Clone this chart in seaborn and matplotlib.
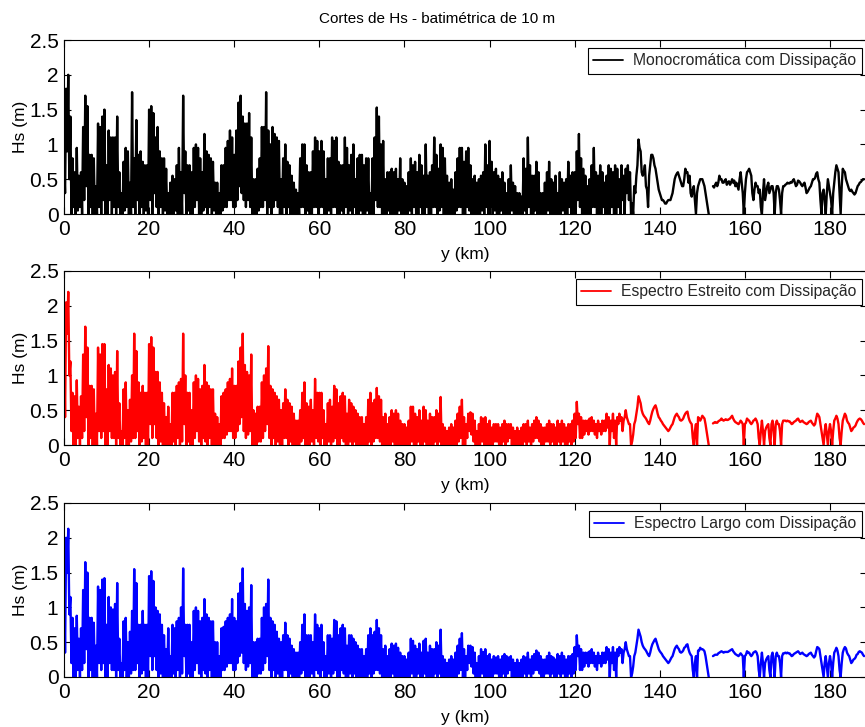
import numpy as np
import pandas as pd
import matplotlib
matplotlib.use("Agg")
import matplotlib.pyplot as plt
from matplotlib.lines import Line2D
import seaborn as sns

nan = np.nan

# Hs cuts along the 10 m isobath, sampled every 0.25 km:
# crests at 0, 0.5, 1.0 ... km and troughs half-way between them.
km_step = 0.25

black_crest = [
    0.8, 1.8, 2.0, 1.4, 0.8, 0.6, 0.95, 0.55, 0.6, 1.25, 1.7, 1.55, 0.85, 0.85, 0.8, 0.4, 1.3, 1.25, 1.4, 1.5,
    0.7, 1.2, 1.1, 1.1, 1.1, 1.4, 0.6, 0.3, 0.75, 0.95, 0.9, 0.45, 1.75, 0.8, 1.35, 0.85, 0.9, 0.75, 0.7, 0.7,
    1.5, 1.55, 1.45, 1.1, 1.25, 0.9, 0.8, 0.8, 0.65, 0.3, 0.45, 0.55, 0.5, 0.7, 0.95, 0.6, 1.7, 0.9, 0.7, 0.7,
    0.6, 0.95, 1.0, 0.95, 0.8, 0.6, 1.15, 0.9, 0.85, 0.8, 0.75, 0.45, 0.45, 0.3, 0.7, 0.7, 0.95, 1.05, 1.2, 1.1,
    0.85, 1.2, 1.6, 1.7, 1.4, 1.3, 1.3, 1.45, 1.1, 0.5, 0.5, 0.65, 0.8, 1.25, 1.25, 1.75, 1.2, 1.0, 1.25, 1.15,
    1.1, 1.05, 0.5, 0.8, 1.0, 0.75, 0.7, 0.55, 0.45, 0.35, 0.3, 0.8, 1.0, 1.0, 0.7, 0.6, 0.6, 0.9, 1.1, 1.05,
    0.9, 1.05, 0.9, 0.5, 0.8, 0.8, 1.1, 1.05, 1.1, 0.75, 0.7, 0.7, 1.1, 0.95, 0.7, 0.85, 1.0, 0.5, 0.8, 0.85,
    0.85, 0.7, 0.8, 0.8, 0.3, 0.8, 1.1, 1.53, 1.4, 1.0, 1.05, 0.5, 0.6, 0.6, 0.65, 0.6, 0.65, 0.5, 0.8, 0.5,
    0.45, 0.4, 0.6, 0.8, 0.7, 0.75, 0.6, 0.85, 0.7, 0.55, 1.0, 0.55, 0.6, 0.7, 1.1, 0.85, 0.65, 1.0, 0.95, 0.8,
    0.55, 0.45, 0.5, 0.35, 0.6, 0.8, 0.95, 0.95, 0.75, 0.9, 0.95, 0.7, 0.5, 0.55, 0.45, 0.5, 0.55, 0.6, 1.0, 0.7,
    1.05, 0.75, 0.6, 0.65, 0.55, 0.5, 0.6, 0.45, 0.3, 0.5, 0.7, 0.45, 0.4, 0.3, 0.3, 0.25, 0.8, 0.65, 1.1, 0.7,
    0.55, 0.55, 0.75, 0.6, 0.3, 0.3, 0.45, 0.6, 0.75, 0.5, 0.45, 0.55, 0.3, 0.6, 0.5, 0.45, 0.5, 0.75, 0.55, 0.6,
    0.6, 0.9, 1.15, 0.8, 0.65, 0.55, 0.4, 0.5, 0.7, 0.95, 0.6, 0.55, 0.7, 0.6, 0.45, 0.55, 0.7, 0.65, 0.6, 0.7,
    0.65, 0.5, 0.7, 0.55, 0.65, 0.7, 0.6, 0.15, 0.4, 0.55, 1.07, 0.9, 0.55, 0.7, 0.35, 0.55, 0.85, 0.8, 0.65, 0.45,
    0.3, 0.2, 0.18, 0.15, 0.2, 0.2, 0.3, 0.5, 0.58, 0.55, 0.45, 0.4, 0.65, 0.6, 0.55, 0.25, 0.4, 0.0, 0.4, 0.5,
    0.5, 0.4, 0.2, 0.0, nan, 0.4, 0.42, 0.4, 0.55, 0.5, 0.45, 0.5, 0.45, 0.42, 0.5, 0.48, 0.45, 0.35, 0.6, 0.3,
    0.3, 0.6, 0.65, 0.55, 0.2, 0.45, 0.4, 0.35, 0.0, 0.5, 0.3, 0.45, 0.35, 0.4, 0.0, 0.4, 0.35, 0.0, 0.4, 0.42,
    0.45, 0.44, 0.45, 0.5, 0.4, 0.48, 0.45, 0.4, 0.45, 0.3, 0.35, 0.4, 0.5, 0.52, 0.6, 0.45, 0.0, 0.35, 0.0, 0.5,
    0.3, 0.0, 0.45, 0.7, 0.6, 0.0, 0.65, 0.6, 0.45, 0.35, 0.35, 0.3, 0.3, 0.4, 0.45, 0.48, 0.5,
]
black_trough = [
    0.3, 0.9, 0.5, 0.0, 0.1, 0.0, 0.05, 0.1, 0.0, 0.2, 0.4, 0.0, 0.1, 0.0, 0.0, 0.0, 0.1, 0.0, 0.2, 0.0,
    0.0, 0.2, 0.0, 0.1, 0.0, 0.1, 0.0, 0.0, 0.05, 0.1, 0.0, 0.0, 0.1, 0.0, 0.2, 0.0, 0.1, 0.0, 0.05, 0.0,
    0.2, 0.0, 0.3, 0.1, 0.0, 0.1, 0.0, 0.05, 0.0, 0.0, 0.0, 0.0, 0.05, 0.0, 0.0, 0.0, 0.3, 0.0, 0.05, 0.0,
    0.0, 0.1, 0.2, 0.0, 0.0, 0.05, 0.1, 0.0, 0.1, 0.0, 0.05, 0.0, 0.0, 0.0, 0.05, 0.1, 0.1, 0.2, 0.2, 0.1,
    0.1, 0.2, 0.4, 0.3, 0.2, 0.1, 0.2, 0.1, 0.0, 0.0, 0.0, 0.05, 0.1, 0.1, 0.2, 0.0, 0.1, 0.0, 0.1, 0.2,
    0.1, 0.0, 0.0, 0.1, 0.0, 0.1, 0.0, 0.0, 0.0, 0.0, 0.0, 0.1, 0.1, 0.0, 0.05, 0.0, 0.0, 0.1, 0.1, 0.0,
    0.1, 0.1, 0.0, 0.0, 0.05, 0.0, 0.1, 0.1, 0.0, 0.0, 0.05, 0.0, 0.1, 0.0, 0.05, 0.0, 0.1, 0.0, 0.0, 0.05,
    0.0, 0.0, 0.05, 0.0, 0.0, 0.0, 0.2, 0.1, 0.1, 0.0, 0.0, 0.0, 0.05, 0.0, 0.0, 0.0, 0.0, 0.05, 0.0, 0.0,
    0.0, 0.0, 0.05, 0.0, 0.1, 0.0, 0.0, 0.1, 0.0, 0.0, 0.1, 0.0, 0.0, 0.1, 0.1, 0.0, 0.05, 0.1, 0.0, 0.0,
    0.0, 0.0, 0.0, 0.0, 0.05, 0.1, 0.1, 0.0, 0.0, 0.1, 0.05, 0.0, 0.0, 0.0, 0.0, 0.0, 0.05, 0.0, 0.1, 0.0,
    0.1, 0.0, 0.05, 0.0, 0.0, 0.05, 0.0, 0.0, 0.0, 0.0, 0.05, 0.0, 0.0, 0.0, 0.0, 0.0, 0.05, 0.0, 0.1, 0.0,
    0.0, 0.05, 0.0, 0.0, 0.0, 0.0, 0.0, 0.05, 0.0, 0.0, 0.0, 0.0, 0.0, 0.0, 0.05, 0.0, 0.0, 0.1, 0.0, 0.0,
    0.0, 0.2, 0.1, 0.0, 0.0, 0.0, 0.0, 0.0, 0.1, 0.1, 0.0, 0.0, 0.0, 0.1, 0.0, 0.0, 0.0, 0.1, 0.0, 0.0,
    0.1, 0.0, 0.2, 0.0, 0.3, 0.2, 0.0, 0.0, 0.3, 0.7, 0.95, 0.6, 0.6, 0.4, 0.1, 0.7, 0.85, 0.7, 0.55, 0.35,
    0.25, 0.2, 0.15, 0.18, 0.2, 0.25, 0.4, 0.55, 0.6, 0.5, 0.4, 0.5, 0.6, 0.45, 0.3, 0.35, 0.2, 0.3, 0.45, 0.5,
    0.45, 0.3, 0.1, nan, nan, 0.38, 0.45, 0.45, 0.5, 0.45, 0.48, 0.42, 0.47, 0.45, 0.45, 0.4, 0.4, 0.5, 0.45, 0.0,
    0.5, 0.62, 0.6, 0.3, 0.35, 0.4, 0.3, 0.1, 0.3, 0.2, 0.4, 0.3, 0.4, 0.3, 0.3, 0.4, 0.2, 0.3, 0.4, 0.43,
    0.44, 0.46, 0.48, 0.45, 0.42, 0.47, 0.42, 0.43, 0.38, 0.32, 0.38, 0.45, 0.5, 0.58, 0.5, 0.2, 0.3, 0.2, 0.3, 0.4,
    0.2, 0.3, 0.6, 0.65, 0.3, 0.4, 0.62, 0.5, 0.4, 0.33, 0.32, 0.28, 0.35, 0.42, 0.46, 0.5,
]

red_crest = [
    1.6, 2.05, 2.2, 1.2, 0.75, 0.7, 0.93, 0.55, 0.7, 1.3, 1.7, 1.4, 0.85, 0.85, 0.8, 0.45, 1.4, 1.3, 1.45, 1.45,
    0.8, 1.15, 1.1, 1.0, 1.05, 1.35, 0.6, 0.2, 0.8, 0.9, 0.5, 0.65, 1.0, 1.6, 1.35, 0.9, 0.75, 0.85, 0.75, 0.75,
    1.45, 1.55, 1.4, 1.05, 1.05, 0.9, 0.75, 0.6, 0.4, 0.55, 0.3, 0.75, 0.75, 0.85, 0.9, 0.95, 1.6, 1.0, 0.75, 0.75,
    0.5, 0.9, 1.0, 0.95, 0.8, 0.85, 1.15, 0.9, 0.85, 0.8, 0.8, 0.45, 0.4, 0.3, 0.7, 0.75, 0.8, 0.9, 0.95, 1.1,
    0.85, 0.85, 1.2, 1.4, 1.6, 1.15, 1.05, 1.0, 1.3, 0.5, 0.45, 0.55, 0.55, 0.9, 1.0, 1.1, 1.42, 0.85, 0.8, 0.75,
    0.7, 0.65, 0.5, 0.6, 0.8, 0.65, 0.6, 0.55, 0.45, 0.35, 0.35, 0.5, 0.75, 0.9, 0.6, 0.55, 0.65, 0.5, 0.95, 0.75,
    0.75, 0.75, 0.5, 0.3, 0.6, 0.65, 0.55, 0.85, 0.8, 0.6, 0.7, 0.75, 0.7, 0.45, 0.65, 0.6, 0.55, 0.5, 0.45, 0.4,
    0.4, 0.3, 0.4, 0.65, 0.75, 0.6, 0.65, 0.82, 0.7, 0.65, 0.4, 0.45, 0.3, 0.4, 0.5, 0.45, 0.5, 0.45, 0.35, 0.3,
    0.3, 0.25, 0.35, 0.55, 0.55, 0.45, 0.4, 0.5, 0.35, 0.55, 0.5, 0.35, 0.45, 0.4, 0.4, 0.5, 0.45, 0.69, 0.3, 0.25,
    0.2, 0.25, 0.3, 0.25, 0.35, 0.45, 0.55, 0.65, 0.4, 0.3, 0.45, 0.47, 0.45, 0.35, 0.2, 0.3, 0.4, 0.38, 0.4, 0.3,
    0.35, 0.25, 0.3, 0.3, 0.3, 0.25, 0.3, 0.35, 0.3, 0.3, 0.3, 0.25, 0.2, 0.25, 0.2, 0.25, 0.3, 0.3, 0.35, 0.25,
    0.3, 0.35, 0.4, 0.35, 0.3, 0.25, 0.25, 0.3, 0.35, 0.3, 0.3, 0.25, 0.35, 0.3, 0.35, 0.3, 0.25, 0.3, 0.3, 0.35,
    0.45, 0.62, 0.45, 0.4, 0.35, 0.35, 0.35, 0.38, 0.4, 0.35, 0.3, 0.35, 0.3, 0.35, 0.35, 0.45, 0.4, 0.35, 0.45, 0.35,
    0.4, 0.45, 0.4, 0.35, 0.5, 0.35, 0.3, 0.05, 0.3, 0.45, 0.7, 0.6, 0.45, 0.4, 0.35, 0.3, 0.42, 0.52, 0.57, 0.45,
    0.38, 0.33, 0.28, 0.24, 0.2, 0.25, 0.3, 0.4, 0.45, 0.4, 0.35, 0.38, 0.45, 0.48, 0.35, 0.3, 0.0, 0.3, 0.4, 0.35,
    0.42, 0.38, 0.2, 0.0, nan, 0.31, 0.33, 0.32, 0.35, 0.38, 0.35, 0.37, 0.36, 0.38, 0.42, 0.35, 0.32, 0.3, 0.35, 0.3,
    0.3, 0.38, 0.35, 0.3, 0.35, 0.38, 0.3, 0.0, 0.35, 0.0, 0.25, 0.3, 0.0, 0.35, 0.0, 0.35, 0.3, 0.0, 0.35, 0.35,
    0.35, 0.34, 0.3, 0.33, 0.35, 0.38, 0.33, 0.35, 0.32, 0.3, 0.33, 0.35, 0.3, 0.3, 0.45, 0.4, 0.2, 0.0, 0.3, 0.0,
    0.3, 0.0, 0.35, 0.42, 0.3, 0.0, 0.35, 0.45, 0.35, 0.3, 0.2, 0.25, 0.28, 0.35, 0.38, 0.35, 0.3,
]
red_trough = [
    0.4, 1.6, 1.0, 0.2, 0.0, 0.0, 0.1, 0.0, 0.1, 0.2, 0.4, 0.0, 0.1, 0.0, 0.0, 0.0, 0.2, 0.1, 0.2, 0.0,
    0.0, 0.2, 0.1, 0.1, 0.0, 0.1, 0.0, 0.0, 0.1, 0.0, 0.0, 0.05, 0.1, 0.1, 0.2, 0.0, 0.05, 0.1, 0.0, 0.0,
    0.3, 0.1, 0.3, 0.1, 0.0, 0.05, 0.0, 0.0, 0.0, 0.0, 0.0, 0.05, 0.0, 0.1, 0.0, 0.05, 0.3, 0.0, 0.05, 0.0,
    0.0, 0.1, 0.2, 0.05, 0.0, 0.1, 0.05, 0.0, 0.1, 0.0, 0.0, 0.0, 0.0, 0.0, 0.1, 0.1, 0.15, 0.2, 0.2, 0.1,
    0.1, 0.2, 0.3, 0.4, 0.2, 0.1, 0.15, 0.2, 0.0, 0.0, 0.0, 0.05, 0.05, 0.1, 0.2, 0.3, 0.1, 0.0, 0.1, 0.0,
    0.05, 0.0, 0.0, 0.1, 0.1, 0.0, 0.05, 0.0, 0.0, 0.0, 0.0, 0.05, 0.1, 0.0, 0.0, 0.0, 0.05, 0.0, 0.1, 0.05,
    0.0, 0.1, 0.0, 0.0, 0.05, 0.0, 0.05, 0.1, 0.0, 0.0, 0.1, 0.05, 0.0, 0.0, 0.05, 0.0, 0.05, 0.0, 0.0, 0.0,
    0.0, 0.0, 0.0, 0.05, 0.0, 0.05, 0.1, 0.1, 0.05, 0.0, 0.0, 0.0, 0.0, 0.0, 0.05, 0.0, 0.0, 0.0, 0.0, 0.0,
    0.0, 0.0, 0.0, 0.05, 0.0, 0.0, 0.05, 0.0, 0.0, 0.05, 0.0, 0.0, 0.0, 0.0, 0.05, 0.0, 0.05, 0.0, 0.0, 0.0,
    0.0, 0.0, 0.0, 0.0, 0.0, 0.05, 0.1, 0.0, 0.0, 0.1, 0.2, 0.15, 0.05, 0.0, 0.0, 0.0, 0.05, 0.0, 0.0, 0.0,
    0.0, 0.0, 0.05, 0.05, 0.0, 0.0, 0.05, 0.0, 0.05, 0.1, 0.0, 0.0, 0.0, 0.0, 0.0, 0.0, 0.05, 0.0, 0.05, 0.0,
    0.05, 0.1, 0.1, 0.05, 0.0, 0.0, 0.05, 0.05, 0.0, 0.05, 0.0, 0.0, 0.05, 0.0, 0.05, 0.0, 0.0, 0.05, 0.0, 0.05,
    0.1, 0.3, 0.1, 0.1, 0.15, 0.2, 0.15, 0.2, 0.2, 0.15, 0.1, 0.2, 0.15, 0.2, 0.2, 0.25, 0.0, 0.2, 0.1, 0.0,
    0.3, 0.35, 0.2, 0.4, 0.4, 0.3, 0.0, 0.15, 0.35, 0.55, 0.65, 0.5, 0.42, 0.38, 0.32, 0.35, 0.48, 0.55, 0.52, 0.4,
    0.35, 0.3, 0.26, 0.22, 0.22, 0.28, 0.35, 0.43, 0.42, 0.36, 0.36, 0.42, 0.47, 0.4, 0.32, 0.1, 0.2, 0.0, 0.38, 0.38,
    0.4, 0.3, 0.1, nan, nan, 0.32, 0.32, 0.34, 0.36, 0.36, 0.36, 0.36, 0.37, 0.4, 0.38, 0.33, 0.31, 0.32, 0.33, 0.0,
    0.32, 0.36, 0.32, 0.32, 0.36, 0.35, 0.1, 0.2, 0.2, 0.2, 0.28, 0.1, 0.3, 0.2, 0.3, 0.3, 0.2, 0.3, 0.35, 0.34,
    0.34, 0.32, 0.31, 0.34, 0.37, 0.35, 0.34, 0.33, 0.31, 0.31, 0.34, 0.32, 0.28, 0.38, 0.43, 0.3, 0.1, 0.2, 0.15, 0.2,
    0.2, 0.2, 0.38, 0.38, 0.1, 0.2, 0.4, 0.42, 0.32, 0.25, 0.22, 0.26, 0.32, 0.37, 0.37, 0.32,
]

blue_crest = [
    1.5, 2.0, 2.13, 1.15, 0.85, 0.7, 0.88, 0.55, 0.7, 1.25, 1.65, 1.5, 0.85, 0.85, 0.78, 0.45, 1.3, 1.25, 1.4, 1.42,
    0.75, 1.15, 1.0, 0.97, 1.05, 1.35, 0.55, 0.2, 0.8, 0.85, 0.5, 0.65, 0.95, 1.55, 1.35, 0.75, 0.75, 0.95, 0.75, 0.75,
    1.45, 1.52, 1.38, 1.0, 0.95, 0.9, 0.75, 0.6, 0.4, 0.7, 0.3, 0.75, 0.7, 0.8, 0.85, 1.0, 1.56, 0.75, 0.75, 0.75,
    0.5, 0.95, 1.0, 0.95, 0.8, 0.85, 1.12, 0.9, 0.85, 0.8, 0.8, 0.5, 0.5, 0.3, 0.7, 0.72, 0.8, 0.85, 0.9, 1.12,
    0.85, 0.8, 1.2, 1.35, 1.56, 1.05, 0.95, 1.0, 1.32, 0.5, 0.5, 0.55, 0.55, 0.85, 1.0, 1.05, 1.4, 0.85, 0.8, 0.75,
    0.65, 0.55, 0.5, 0.6, 0.78, 0.6, 0.55, 0.45, 0.4, 0.35, 0.35, 0.5, 0.75, 0.9, 0.6, 0.6, 0.6, 0.5, 0.9, 0.75,
    0.7, 0.75, 0.5, 0.3, 0.6, 0.6, 0.55, 0.82, 0.8, 0.6, 0.7, 0.75, 0.7, 0.45, 0.6, 0.6, 0.55, 0.5, 0.45, 0.4,
    0.4, 0.3, 0.4, 0.6, 0.7, 0.6, 0.65, 0.82, 0.7, 0.6, 0.4, 0.45, 0.3, 0.4, 0.48, 0.45, 0.48, 0.42, 0.35, 0.3,
    0.3, 0.25, 0.35, 0.55, 0.52, 0.45, 0.4, 0.48, 0.35, 0.52, 0.55, 0.35, 0.45, 0.4, 0.4, 0.5, 0.45, 0.68, 0.3, 0.25,
    0.2, 0.25, 0.3, 0.25, 0.35, 0.45, 0.55, 0.63, 0.4, 0.3, 0.45, 0.45, 0.43, 0.35, 0.2, 0.3, 0.4, 0.36, 0.4, 0.3,
    0.33, 0.25, 0.3, 0.28, 0.3, 0.25, 0.3, 0.33, 0.3, 0.28, 0.3, 0.25, 0.2, 0.25, 0.2, 0.25, 0.3, 0.28, 0.35, 0.25,
    0.3, 0.33, 0.38, 0.35, 0.3, 0.25, 0.25, 0.3, 0.35, 0.3, 0.28, 0.25, 0.33, 0.3, 0.35, 0.3, 0.25, 0.3, 0.3, 0.33,
    0.43, 0.6, 0.45, 0.4, 0.35, 0.35, 0.35, 0.37, 0.4, 0.35, 0.3, 0.35, 0.3, 0.35, 0.35, 0.43, 0.4, 0.35, 0.43, 0.35,
    0.4, 0.43, 0.4, 0.35, 0.5, 0.35, 0.3, 0.05, 0.3, 0.45, 0.68, 0.58, 0.45, 0.4, 0.35, 0.3, 0.42, 0.5, 0.55, 0.45,
    0.37, 0.33, 0.28, 0.24, 0.2, 0.25, 0.3, 0.4, 0.45, 0.4, 0.35, 0.38, 0.43, 0.47, 0.35, 0.3, 0.0, 0.3, 0.38, 0.42,
    0.4, 0.37, 0.2, 0.0, nan, 0.3, 0.32, 0.32, 0.35, 0.37, 0.35, 0.36, 0.36, 0.38, 0.4, 0.35, 0.32, 0.3, 0.34, 0.3,
    0.3, 0.37, 0.35, 0.3, 0.35, 0.37, 0.3, 0.0, 0.35, 0.0, 0.25, 0.3, 0.0, 0.35, 0.0, 0.35, 0.3, 0.0, 0.34, 0.35,
    0.35, 0.34, 0.3, 0.33, 0.35, 0.37, 0.33, 0.35, 0.32, 0.3, 0.33, 0.35, 0.3, 0.3, 0.43, 0.4, 0.2, 0.0, 0.3, 0.0,
    0.3, 0.0, 0.35, 0.42, 0.3, 0.0, 0.35, 0.43, 0.35, 0.3, 0.2, 0.25, 0.28, 0.33, 0.37, 0.35, 0.3,
]
blue_trough = [
    0.35, 1.5, 0.9, 0.2, 0.0, 0.0, 0.1, 0.0, 0.1, 0.2, 0.4, 0.0, 0.1, 0.0, 0.0, 0.0, 0.2, 0.1, 0.2, 0.0,
    0.0, 0.2, 0.1, 0.1, 0.0, 0.1, 0.0, 0.0, 0.1, 0.0, 0.0, 0.05, 0.1, 0.1, 0.2, 0.0, 0.05, 0.1, 0.0, 0.0,
    0.3, 0.1, 0.3, 0.1, 0.0, 0.05, 0.0, 0.0, 0.0, 0.0, 0.0, 0.05, 0.0, 0.1, 0.0, 0.05, 0.3, 0.0, 0.05, 0.0,
    0.0, 0.1, 0.2, 0.05, 0.0, 0.1, 0.05, 0.0, 0.1, 0.0, 0.0, 0.0, 0.0, 0.0, 0.1, 0.1, 0.15, 0.2, 0.2, 0.1,
    0.1, 0.2, 0.3, 0.35, 0.2, 0.1, 0.15, 0.2, 0.0, 0.0, 0.0, 0.05, 0.05, 0.1, 0.2, 0.3, 0.1, 0.0, 0.1, 0.0,
    0.05, 0.0, 0.0, 0.1, 0.1, 0.0, 0.05, 0.0, 0.0, 0.0, 0.0, 0.05, 0.1, 0.0, 0.0, 0.0, 0.05, 0.0, 0.1, 0.05,
    0.0, 0.1, 0.0, 0.0, 0.05, 0.0, 0.05, 0.1, 0.0, 0.0, 0.1, 0.05, 0.0, 0.0, 0.05, 0.0, 0.05, 0.0, 0.0, 0.0,
    0.0, 0.0, 0.0, 0.05, 0.0, 0.05, 0.1, 0.1, 0.05, 0.0, 0.0, 0.0, 0.0, 0.0, 0.05, 0.0, 0.0, 0.0, 0.0, 0.0,
    0.0, 0.0, 0.0, 0.05, 0.0, 0.0, 0.05, 0.0, 0.0, 0.05, 0.0, 0.0, 0.0, 0.0, 0.05, 0.0, 0.05, 0.0, 0.0, 0.0,
    0.0, 0.0, 0.0, 0.0, 0.0, 0.05, 0.1, 0.0, 0.0, 0.1, 0.2, 0.15, 0.05, 0.0, 0.0, 0.0, 0.05, 0.0, 0.0, 0.0,
    0.0, 0.0, 0.05, 0.05, 0.0, 0.0, 0.05, 0.0, 0.05, 0.1, 0.0, 0.0, 0.0, 0.0, 0.0, 0.0, 0.05, 0.0, 0.05, 0.0,
    0.05, 0.1, 0.1, 0.05, 0.0, 0.0, 0.05, 0.05, 0.0, 0.05, 0.0, 0.0, 0.05, 0.0, 0.05, 0.0, 0.0, 0.05, 0.0, 0.05,
    0.1, 0.3, 0.1, 0.1, 0.15, 0.2, 0.15, 0.2, 0.2, 0.15, 0.1, 0.2, 0.15, 0.2, 0.2, 0.25, 0.0, 0.2, 0.1, 0.0,
    0.3, 0.35, 0.2, 0.4, 0.4, 0.3, 0.0, 0.15, 0.35, 0.55, 0.63, 0.5, 0.42, 0.38, 0.32, 0.35, 0.47, 0.53, 0.5, 0.4,
    0.35, 0.3, 0.26, 0.22, 0.22, 0.28, 0.35, 0.43, 0.42, 0.36, 0.36, 0.42, 0.46, 0.4, 0.32, 0.1, 0.2, 0.0, 0.38, 0.4,
    0.39, 0.3, 0.1, nan, nan, 0.31, 0.32, 0.34, 0.36, 0.36, 0.36, 0.36, 0.37, 0.39, 0.37, 0.33, 0.31, 0.32, 0.32, 0.0,
    0.32, 0.35, 0.32, 0.32, 0.36, 0.35, 0.1, 0.2, 0.2, 0.2, 0.28, 0.1, 0.3, 0.2, 0.3, 0.3, 0.2, 0.3, 0.34, 0.34,
    0.34, 0.32, 0.31, 0.34, 0.36, 0.35, 0.34, 0.33, 0.31, 0.31, 0.34, 0.32, 0.28, 0.37, 0.42, 0.3, 0.1, 0.2, 0.15, 0.2,
    0.2, 0.2, 0.38, 0.38, 0.1, 0.2, 0.4, 0.41, 0.32, 0.25, 0.22, 0.26, 0.32, 0.36, 0.36, 0.32,
]

series_labels = [
    "Monocromática com Dissipação",
    "Espectro Estreito com Dissipação",
    "Espectro Largo com Dissipação",
]
series_colors = ["#000000", "#ff0000", "#0000ff"]
x_ticks = [0, 20, 40, 60, 80, 100, 120, 140, 160, 180]
y_ticks = [0, 0.5, 1, 1.5, 2, 2.5]
y_tick_labels = ["0", "0.5", "1", "1.5", "2", "2.5"]


def cut_frame(crest, trough):
    """Interleave crests and troughs into one cut; NaN marks a break in the line."""
    hs = np.empty(len(crest) + len(trough))
    hs[0::2] = crest
    hs[1::2] = trough
    y_km = np.arange(hs.size) * km_step
    piece = np.cumsum(np.isnan(hs))
    return pd.DataFrame({"y": y_km, "hs": hs, "piece": piece}).dropna()


frames = [
    cut_frame(black_crest, black_trough),
    cut_frame(red_crest, red_trough),
    cut_frame(blue_crest, blue_trough),
]

sns.set_theme(style="ticks")
plt.rcParams["font.family"] = ["Liberation Sans", "DejaVu Sans"]

W, H = 865, 727
fig = plt.figure(figsize=(W / 100, H / 100), dpi=100)
fig.patch.set_facecolor("white")

ax_left, ax_right = 64, 867
panel_tops = [40, 271, 503]
panel_h = 174
line_w = 1.7

fig.text(437 / W, 1 - 19 / H, "Cortes de Hs - batimétrica de 10 m",
         ha="center", va="center", fontsize=11, color="black")

for df, label, color, top in zip(frames, series_labels, series_colors, panel_tops):
    ax = fig.add_axes([ax_left / W, 1 - (top + panel_h) / H,
                       (ax_right - ax_left) / W, panel_h / H])
    ax.set_facecolor("white")
    sns.lineplot(data=df, x="y", y="hs", units="piece", estimator=None,
                 sort=False, color=color, linewidth=line_w, legend=False, ax=ax)
    ax.set_xlim(0, (ax_right - ax_left) / (766 / 180))
    ax.set_ylim(0, 2.5)
    ax.set_xticks(x_ticks)
    ax.set_xticklabels([str(t) for t in x_ticks])
    ax.set_yticks(y_ticks)
    ax.set_yticklabels(y_tick_labels)
    ax.tick_params(direction="in", length=5, width=0.8, color="black",
                   top=True, right=True, labelsize=15, pad=4, labelcolor="black")
    for sp in ax.spines.values():
        sp.set_visible(True)
        sp.set_color("black")
        sp.set_linewidth(0.8)
    ax.set_xlabel("y (km)", fontsize=12.5, color="black")
    ax.set_ylabel("Hs (m)", fontsize=12.5, color="black")
    ax.xaxis.set_label_coords(0.5, -33 / panel_h)
    ax.yaxis.set_label_coords(-36 / (ax_right - ax_left), 0.5)
    ax.grid(False)

    handle = Line2D([0], [0], color=color, linewidth=1.3)
    leg = ax.legend([handle], [label], loc="upper right",
                    bbox_to_anchor=(862 / W, 1 - (top + 8) / H),
                    bbox_transform=fig.transFigure, borderaxespad=0,
                    fontsize=11.3, handlelength=1.9, handletextpad=0.65,
                    borderpad=0.35, fancybox=False, framealpha=1)
    leg.get_frame().set_edgecolor("black")
    leg.get_frame().set_linewidth(0.8)

fig.savefig("out.png", dpi=100, facecolor="white")
